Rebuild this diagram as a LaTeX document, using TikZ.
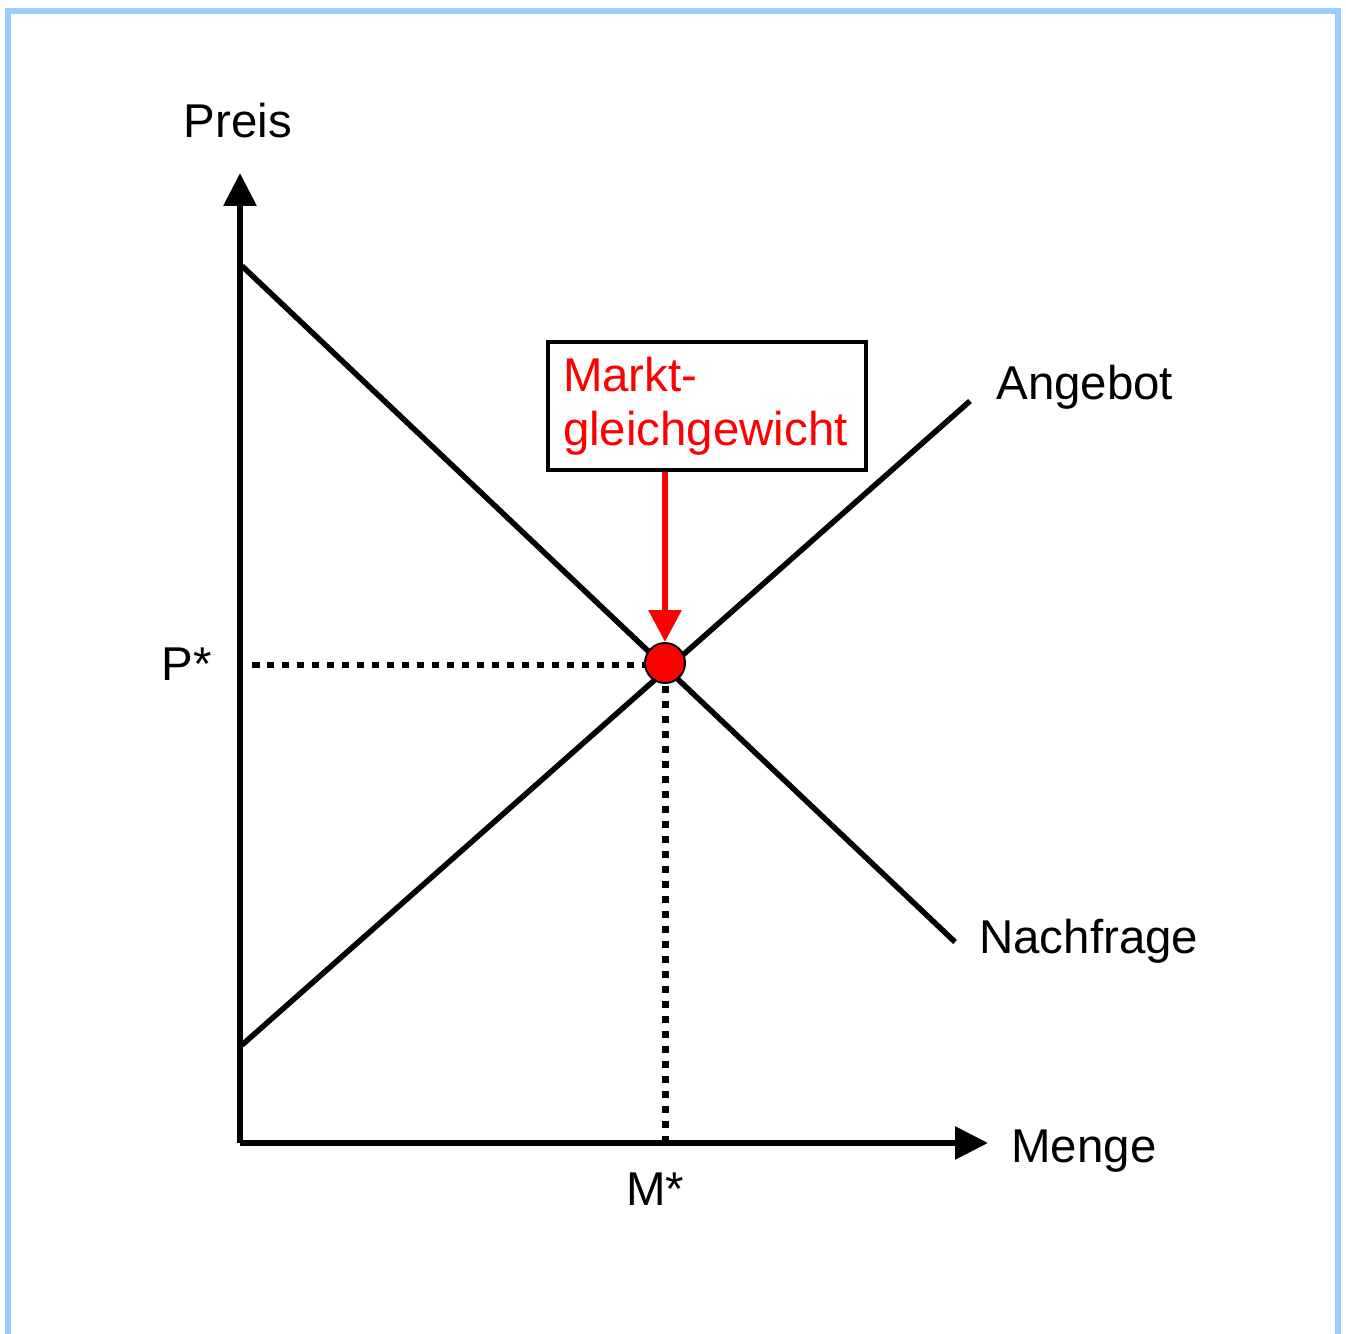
\documentclass[tikz,border=0pt]{standalone}
\usepackage{fontspec}
\setmainfont{Liberation Sans}
\usetikzlibrary{arrows.meta,positioning}
\definecolor{mgframe}{RGB}{153,204,255}
\newcommand{\mgFont}{\fontsize{27}{31}\selectfont}
\tikzset{
  %% axes and curves: heavy black rules
  mgaxis/.style={-{Triangle[length=0.66cm,width=0.64cm]}, draw=black,
    line width=0.12cm},
  mgcurve/.style={draw=black, line width=0.11cm},
  %% guide lines from the equilibrium down / across to the axes
  mgguide/.style={draw=black, line width=0.14cm,
    dash pattern=on 0.15cm off 0.15cm},
  mglbl/.style={font=\mgFont, inner sep=0pt, text=black},
  mgbox/.style={draw=black, line width=0.08cm, fill=white, font=\mgFont,
    text=red, align=left, minimum width=6.36cm, minimum height=2.56cm,
    text width=5.76cm, inner xsep=0.3cm},
  mgpoint/.style={circle, fill=red, draw=black, line width=0.04cm,
    minimum size=0.8cm, inner sep=0pt},
  mgarrow/.style={-{Triangle[length=0.64cm,width=0.64cm]}, draw=red,
    line width=0.12cm},
}

\begin{document}
\begin{tikzpicture}[x=0.02cm,y=-0.02cm]

%% --- page and frame -----------------------------------------------
\useasboundingbox (0,0) rectangle (1346,1334);
\draw[mgframe, line width=0.12cm] (8,1360) -- (8,11) -- (1338,11) -- (1338,1360);

%% --- axes ---------------------------------------------------------
\coordinate (orig) at (240,1143);
\coordinate (ytip) at (240,173);
\coordinate (xtip) at (988,1143);
\draw[mgaxis] (orig) -- (ytip);
\draw[mgaxis] (orig) -- (xtip);

\node[mglbl] (preis) at (238,121) {Preis};
\node[mglbl, anchor=west] (menge) at (1011,1151) {Menge};

%% --- supply and demand --------------------------------------------
\coordinate (dtop) at (242,266);
\coordinate (dbot) at (955,942);
\coordinate (sbot) at (242,1045);
\coordinate (stop) at (970,401);
\draw[mgcurve] (dtop) -- (dbot);
\draw[mgcurve] (sbot) -- (stop);

\node[mglbl, anchor=west] (angebot) at (996,387) {Angebot};
\node[mglbl, anchor=west] (nachfrage) at (979,941) {Nachfrage};

%% --- equilibrium --------------------------------------------------
\coordinate (pstar) at (252,665);
\coordinate (mstar) at (665,1140);
\draw[mgguide] (pstar) -- (645,665);
\draw[mgguide] (665,686) -- (mstar);
\node[mgpoint] (gg) at (665,663) {};

\node[mglbl] (plbl) at (187,664) {P*};
\node[mglbl] (mlbl) at (655,1189) {M*};

\node[mgbox] (mbox) at (707,406) {Markt-\\gleichgewicht};
\draw[mgarrow] (mbox.south -| gg) -- (gg.north);

\end{tikzpicture}
\end{document}
